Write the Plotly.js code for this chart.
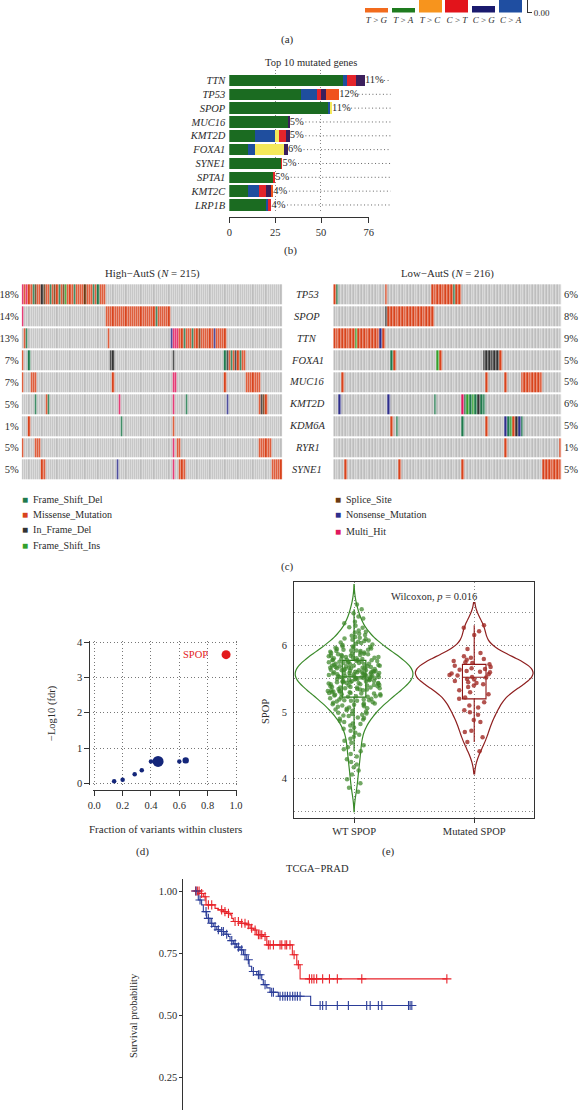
<!DOCTYPE html>
<html><head><meta charset="utf-8">
<script src="https://cdn.plot.ly/plotly-3.0.1.min.js"></script>
<style>html,body{margin:0;padding:0;background:#fff;}#chart{width:580px;height:1110px;}</style>
</head><body><div id="chart"></div>
<script>
// ---------- Panel (a): substitution classes (bottom of boxplots) ----------
const sbsCats = ['T>G','T>A','T>C','C>T','C>G','C>A'];
const sbsTickText = ['<i>T</i> > <i>G</i>','<i>T</i> > <i>A</i>','<i>T</i> > <i>C</i>','<i>C</i> > <i>T</i>','<i>C</i> > <i>G</i>','<i>C</i> > <i>A</i>'];
const sbsVisible = [0.012, 0.012, 0.05, 0.05, 0.016, 0.05];
const sbsColors = ['#f26b1d','#1e7b1e','#f7941d','#e2141b','#1a1a6e','#1f4ea1'];

// ---------- Panel (b): top 10 mutated genes ----------
const genesB = ['TTN','TP53','SPOP','MUC16','KMT2D','FOXA1','SYNE1','SPTA1','KMT2C','LRP1B'];
const bMissense   = [62,39,54,32,14,10,28,24,10,20];
const bFrameDel   = [2,9,1,0,11,4,0,0,6,1];
const bInFrameDel = [0,0,1,0,2,16,0,0,0,0];
const bNonsense   = [5,2,0,0,4,0,1,1,4,2];
const bMultiHit   = [5,3,0,1,2,2,0,0,3,0];
const bFrameIns   = [0,7,0,0,0,0,0,0,1,0];
const pctB = ['11%','12%','11%','5%','5%','6%','5%','5%','4%','4%'];
const bTicks = [0,25,50,76];

// ---------- Panel (c): oncoplots ----------
const genesC = ['TP53','SPOP','TTN','FOXA1','MUC16','KMT2D','KDM6A','RYR1','SYNE1'];
const pctHigh = ['18%','14%','13%','7%','7%','5%','1%','5%','5%'];
const pctLow  = ['6%','8%','9%','5%','5%','6%','5%','1%','5%'];
const variantClasses = ['None','Frame_Shift_Del','Missense_Mutation','In_Frame_Del','Frame_Shift_Ins','Splice_Site','Nonsense_Mutation','Multi_Hit'];
const nHigh = 121, nLow = 84;
// runs: [firstSample, lastSample, classIndex]
const runsHigh = [
  [[0,38,2],[0,0,7],[2,2,7],[5,5,1],[6,6,5],[9,9,3],[10,10,5],[13,13,1],[15,15,5],[17,17,1],[19,19,5],[20,20,4],[24,24,1],[29,29,5],[33,33,1],[35,35,1]],
  [[0,0,7],[39,68,2],[62,62,1]],
  [[1,1,2],[2,2,1],[40,40,2],[69,69,6],[70,72,7],[73,94,2],[75,75,1],[79,79,1],[82,82,5],[89,89,6]],
  [[0,0,2],[3,3,1],[41,42,3],[70,70,3],[94,103,2],[94,94,1],[95,95,3],[97,97,1],[99,99,3],[101,101,1]],
  [[0,0,2],[4,6,2],[42,42,2],[70,71,7],[94,94,2],[104,110,2]],
  [[6,6,1],[11,11,2],[12,12,1],[45,45,7],[70,70,7],[76,76,1],[95,95,6],[110,110,2],[111,111,3],[112,112,5],[113,113,2]],
  [[3,3,2],[46,46,1],[70,70,2]],
  [[0,0,2],[6,8,2],[70,70,7],[72,73,2],[110,115,2]],
  [[9,10,2],[44,44,6],[70,70,7],[73,75,2],[116,120,2]]
];
const runsLow = [
  [[0,0,2],[1,1,1],[19,19,2],[36,43,2],[44,44,1],[45,46,2]],
  [[19,19,3],[20,36,2]],
  [[0,7,2],[8,8,4],[9,16,2],[17,17,6],[18,18,2]],
  [[21,21,1],[22,22,2],[38,38,4],[39,39,2],[55,60,3],[61,61,2]],
  [[3,3,2],[56,56,2],[63,63,2],[69,76,2]],
  [[2,2,6],[20,20,6],[37,37,1],[47,47,7],[48,55,1],[49,49,4],[51,51,4],[53,53,3]],
  [[21,21,2],[23,23,1],[47,47,1],[56,56,2],[63,63,6],[64,69,1],[65,65,4],[66,66,2],[67,67,3],[68,68,6]],
  [[63,63,2],[83,83,2]],
  [[4,4,2],[24,24,2],[47,47,2],[77,83,2]]
];
const cellColors = ['#bdbdbd','#1f7a4d','#d8431c','#333333','#34a02c','#6b3a12','#2e2e8c','#e0195e'];

// ---------- Panel (d): clusters ----------
const clusterFrac  = [0.14,0.20,0.285,0.335,0.40,0.45,0.60,0.645,0.93];
const clusterFdr   = [0.06,0.10,0.26,0.37,0.62,0.62,0.62,0.65,3.65];
const clusterCount = [1,1,1,1,1,6,1,2,4];
const clusterGene  = ['','','','','','','','','SPOP'];

// ---------- Panel (e): SPOP expression ----------
const wtSpop = [
6.62,6.55,6.49,6.44,6.41,6.36,6.34,6.30,6.28,6.27,6.23,6.21,6.20,6.18,6.16,6.15,6.13,6.12,6.10,6.09,
6.08,6.06,6.05,6.03,6.02,6.01,5.99,5.98,5.98,5.96,5.95,5.94,5.93,5.93,5.92,5.90,5.90,5.89,5.88,5.87,
5.87,5.86,5.85,5.84,5.83,5.83,5.82,5.81,5.80,5.80,5.79,5.78,5.78,5.77,5.76,5.76,5.75,5.74,5.74,5.73,
5.72,5.72,5.71,5.70,5.70,5.69,5.69,5.68,5.67,5.67,5.66,5.66,5.65,5.64,5.64,5.63,5.63,5.62,5.62,5.61,
5.61,5.60,5.60,5.59,5.59,5.58,5.58,5.57,5.57,5.56,5.56,5.55,5.55,5.54,5.54,5.53,5.53,5.52,5.52,5.51,
5.51,5.50,5.50,5.49,5.48,5.48,5.47,5.47,5.46,5.45,5.45,5.44,5.43,5.43,5.42,5.41,5.40,5.40,5.39,5.38,
5.37,5.37,5.36,5.35,5.34,5.33,5.33,5.32,5.31,5.30,5.29,5.28,5.27,5.26,5.25,5.24,5.23,5.22,5.20,5.19,
5.18,5.17,5.15,5.14,5.13,5.11,5.10,5.09,5.07,5.06,5.04,5.03,5.01,4.99,4.97,4.95,4.94,4.92,4.89,4.87,
4.85,4.82,4.80,4.77,4.75,4.72,4.69,4.66,4.63,4.60,4.57,4.54,4.50,4.47,4.44,4.41,4.37,4.33,4.29,4.25,
4.21,4.17,4.12,4.06,3.99,3.93,3.86,3.80,
5.91,5.86,5.81,5.79,5.77,5.73,5.71,5.68,5.65,5.63,5.61,5.58,5.57,5.54,5.52,5.49,5.46,5.44,5.41,5.38,
5.35,5.32,5.29,5.27,5.24,5.21,5.18,5.16,5.12,5.08,5.84,5.76,5.69,5.62,5.56,5.51,5.47,5.42,5.36,5.31,
6.04,5.97,5.92,5.85,5.78,5.70,5.66,5.59,5.53,5.45,5.39,5.34,5.28,5.23,5.17,5.11,5.02,4.96,4.90,4.83,
6.11,6.07,5.99,5.94,5.88,5.82,5.75,5.67,5.60,5.55,5.50,5.44,5.37,5.30,5.25,5.19,5.13,5.05,4.98,4.91];
const mutSpop = [6.31,6.27,6.22,6.16,5.95,5.89,5.84,5.82,5.80,5.79,5.77,5.75,5.74,5.72,5.70,5.68,5.66,5.65,5.64,5.62,
5.61,5.60,5.58,5.57,5.56,5.55,5.53,5.52,5.50,5.49,5.47,5.45,5.44,5.42,5.40,5.38,5.33,5.30,5.27,5.22,
5.20,5.15,5.10,5.07,5.03,5.00,4.96,4.88,4.85,4.72,4.70,4.62,4.55,4.41];
const groupsE = ['WT SPOP','Mutated SPOP'];

// ---------- Panel (f): Kaplan-Meier TCGA-PRAD (months) ----------
const kmTimeRed = [0,3.6,5.7,7.4,13.1,15.2,18.4,20.5,22.6,23.7,24.7,28.9,33.2,35.3,37.4,39.5,43.7,45.9,62.1,64.9,67.0,160];
const kmSurvRed = [1,0.99,0.977,0.944,0.93,0.924,0.917,0.91,0.904,0.89,0.877,0.87,0.864,0.85,0.843,0.824,0.817,0.783,0.743,0.703,0.646,0.646];
const kmCensorRed = [0.8,1.9,3.0,4.6,6.8,8.9,11.0,17.3,19.4,21.6,25.8,27.9,30.0,32.1,34.2,36.3,38.5,40.6,41.6,42.7,44.8,46.9,48.0,50.1,54.3,55.4,57.5,58.5,60.6,63.2,65.9,72.9,74.4,75.8,77.5,81.3,85.6,90.6,106.1,160];
const kmTimeBlue = [0,2.5,4.6,5.7,7.8,9.9,12.0,14.2,16.3,19.4,21.6,22.6,24.7,26.8,28.9,31.1,33.2,34.7,36.3,39.5,42.7,43.7,45.9,48.0,53.2,73.7,137.8];
const kmSurvBlue = [1,0.964,0.944,0.917,0.89,0.87,0.857,0.844,0.837,0.826,0.817,0.80,0.787,0.774,0.763,0.743,0.723,0.697,0.676,0.663,0.643,0.623,0.61,0.592,0.576,0.539,0.539];
const kmCensorBlue = [1.1,3.6,7.4,8.9,11.0,13.1,15.2,17.3,18.4,20.5,23.7,25.8,27.9,30.0,32.1,34.2,37.4,40.6,41.6,44.8,49.0,50.1,54.3,56.0,57.5,59.0,60.6,62.3,63.8,65.3,67.0,79.7,81.3,83.5,90.6,97.6,109.2,111.4,116.6,118.8,135.7,136.7,137.8];

// ================= helpers =================
const W = 580, H = 1110;
const dx = (a,b) => [a/W, b/W];
const dy = (t,b) => [1-b/H, 1-t/H];
const px = x => x/W;
const py = y => 1-y/H;
const FONT = 'Liberation Serif, DejaVu Serif, serif';
const TXT = '#2b2b2b';
const RED = '#e8232a', BLUE = '#2b3d98';
const DOTS = '1px,2.5px';

function buildZ(runs, n){
  return runs.map(r => { const row = new Array(n).fill(0); r.forEach(([a,b,c]) => { for(let i=a;i<=b;i++) row[i]=c; }); return row; });
}
function discreteScale(colors){
  const n = colors.length, cs = [];
  colors.forEach((c,i) => { cs.push([i/n,c]); cs.push([(i+1)/n,c]); });
  return cs;
}
function stepAt(times, surv, t){
  let s = surv[0];
  for(let i=0;i<times.length;i++){ if(times[i] <= t) s = surv[i]; }
  return s;
}
const seq = n => Array.from({length:n}, (_,i)=>i);

const traces = [];
// ---- (a)
traces.push({type:'bar', x:sbsCats, y:sbsVisible, marker:{color:sbsColors}, width:0.86, xaxis:'x', yaxis:'y', hoverinfo:'skip'});

// ---- (b)
const bSeries = [
  [bMissense,'#1b6b21'],[bFrameDel,'#1f4e9e'],[bInFrameDel,'#f4e85a'],
  [bNonsense,'#e3242b'],[bMultiHit,'#3b1f5c'],[bFrameIns,'#f0521e']
];
bSeries.forEach(([vals,col]) => traces.push({type:'bar', orientation:'h', x:vals, y:genesB, marker:{color:col, line:{width:0}}, width:0.84, xaxis:'x2', yaxis:'y2', hoverinfo:'skip'}));
const totalsB = genesB.map((g,i) => bSeries.reduce((s,[v]) => s+v[i], 0));
const dotX = [], dotY = [];
totalsB.forEach((t,i) => { dotX.push(t+8.5, 88, null); dotY.push(genesB[i], genesB[i], null); });
traces.push({type:'scatter', mode:'lines', x:dotX, y:dotY, line:{color:'#666', dash:DOTS, width:1}, xaxis:'x2', yaxis:'y2', hoverinfo:'skip'});
traces.push({type:'scatter', mode:'text', x:totalsB, y:genesB, text:pctB, textposition:'middle right', textfont:{size:10.5, color:TXT, family:FONT}, xaxis:'x2', yaxis:'y2', hoverinfo:'skip', cliponaxis:false});
traces.push({type:'scatter', mode:'markers', x:[0], y:[genesB[0]], marker:{opacity:0}, xaxis:'x3', yaxis:'y2', hoverinfo:'skip'});

// ---- (c)
const cs = discreteScale(cellColors);
traces.push({type:'heatmap', z:buildZ(runsHigh,nHigh), x:seq(nHigh), y:genesC, colorscale:cs, zmin:-0.5, zmax:cellColors.length-0.5, showscale:false, xgap:0.6, ygap:2, xaxis:'x4', yaxis:'y4', hoverinfo:'skip'});
traces.push({type:'heatmap', z:buildZ(runsLow,nLow), x:seq(nLow), y:genesC, colorscale:cs, zmin:-0.5, zmax:cellColors.length-0.5, showscale:false, xgap:0.6, ygap:2, xaxis:'x5', yaxis:'y5', hoverinfo:'skip'});

// ---- (d)
traces.push({type:'scatter', mode:'markers', x:clusterFrac, y:clusterFdr,
  marker:{size:clusterCount, sizemode:'area', sizeref:0.0988, opacity:1, color:clusterGene.map(g => g ? '#e31a1c' : '#14267a'), line:{width:0}},
  xaxis:'x6', yaxis:'y6', cliponaxis:false, hoverinfo:'skip'});

// ---- (e)
const violinCommon = {type:'violin', points:'all', jitter:0.45, pointpos:0, width:0.98, spanmode:'soft',
  fillcolor:'rgba(0,0,0,0)', meanline:{visible:false}, xaxis:'x7', yaxis:'y7', hoverinfo:'skip'};
traces.push(Object.assign({}, violinCommon, {x:wtSpop.map(()=>groupsE[0]), y:wtSpop, bandwidth:0.15,
  line:{color:'#3a8a2a', width:1.2}, marker:{size:4.5, color:'rgba(60,135,40,0.72)'},
  box:{visible:true, width:0.2, fillcolor:'rgba(0,0,0,0)', line:{color:'#2a7a1c', width:1.2}}}));
traces.push(Object.assign({}, violinCommon, {x:mutSpop.map(()=>groupsE[1]), y:mutSpop, bandwidth:0.17,
  line:{color:'#8e1f1f', width:1.2}, marker:{size:4.5, color:'rgba(160,40,35,0.8)'},
  box:{visible:true, width:0.2, fillcolor:'rgba(0,0,0,0)', line:{color:'#8e1414', width:1.1}}}));

// ---- (f)
traces.push({type:'scatter', mode:'lines', x:kmTimeRed, y:kmSurvRed, line:{shape:'hv', color:RED, width:1.1}, xaxis:'x8', yaxis:'y8', hoverinfo:'skip'});
traces.push({type:'scatter', mode:'lines', x:kmTimeBlue, y:kmSurvBlue, line:{shape:'hv', color:BLUE, width:1.1}, xaxis:'x8', yaxis:'y8', hoverinfo:'skip'});
traces.push({type:'scatter', mode:'markers', x:kmCensorRed, y:kmCensorRed.map(t => stepAt(kmTimeRed,kmSurvRed,t)), marker:{symbol:'cross-thin-open', size:6.5, color:RED, line:{width:1.1, color:RED}}, xaxis:'x8', yaxis:'y8', cliponaxis:false, hoverinfo:'skip'});
traces.push({type:'scatter', mode:'markers', x:kmCensorBlue, y:kmCensorBlue.map(t => stepAt(kmTimeBlue,kmSurvBlue,t)), marker:{symbol:'cross-thin-open', size:6.5, color:BLUE, line:{width:1.1, color:BLUE}}, xaxis:'x8', yaxis:'y8', cliponaxis:false, hoverinfo:'skip'});

// ================= annotations =================
const ann = [];
function A(text,x,y,opts){ ann.push(Object.assign({text, x:px(x), y:py(y), xref:'paper', yref:'paper', showarrow:false, xanchor:'center', yanchor:'middle', font:{size:10, color:TXT, family:FONT}}, opts||{})); }
const F = s => ({size:s, color:TXT, family:FONT});
A('(a)',287,40,{font:F(11)});
A('(b)',290,250,{font:F(11)});
A('(c)',287,566,{font:F(11)});
A('(d)',142,851,{font:F(11)});
A('(e)',388,851,{font:F(11)});
A('Top 10 mutated genes',311,63,{font:F(10.5)});
A('High−AutS (<i>N</i> = 215)',152.5,273,{font:F(10.8)});
A('Low−AutS (<i>N</i> = 216)',447.5,273,{font:F(10.8)});
genesC.forEach((g,i) => {
  ann.push({text:'<i>'+g+'</i>', x:px(307), xref:'paper', y:g, yref:'y5', showarrow:false, xanchor:'center', font:F(10.5)});
  ann.push({text:pctLow[i], x:px(580), xref:'paper', y:g, yref:'y5', showarrow:false, xanchor:'right', font:F(10.5)});
});
clusterGene.forEach((g,i) => { if(g) ann.push({text:g, x:clusterFrac[i], y:clusterFdr[i], xref:'x6', yref:'y6', showarrow:false, xanchor:'right', xshift:-16, font:{size:10.5, color:'#e31a1c', family:FONT}}); });
const legLeft = [1,2,3,4], legRight = [5,6,7];
legLeft.forEach((c,i) => A('<span style="color:'+cellColors[c]+'">■</span>  '+variantClasses[c], 20, 499+i*15.4, {xanchor:'left', font:F(10)}));
legRight.forEach((c,i) => A('<span style="color:'+cellColors[c]+'">■</span>  '+variantClasses[c], 333, 499+i*16, {xanchor:'left', font:F(10)}));
A('−Log10 (fdr)',52,713,{textangle:-90, font:F(10.5)});
A('Fraction of variants within clusters',165,829,{font:F(11)});
A('SPOP',265,712,{textangle:-90, font:F(10.5)});
A('Wilcoxon, <i>p</i> = 0.016',433.5,597,{font:F(10.5)});
A('TCGA−PRAD',317,868,{font:F(10.5)});
A('Survival probability',133,1016,{textangle:-90, font:F(10.5)});

// ================= layout =================
const ax0 = {showgrid:false, zeroline:false, showline:false, ticks:'', tickfont:F(10)};
const layout = {
  width:W, height:H, margin:{l:0,r:0,t:0,b:0}, showlegend:false,
  paper_bgcolor:'#fff', plot_bgcolor:'rgba(0,0,0,0)', font:{family:FONT, color:TXT, size:10},
  barmode:'stack', violinmode:'overlay', annotations:ann,
  xaxis: Object.assign({}, ax0, {domain:dx(363,524), anchor:'y', type:'category', range:[-0.5,5.5], tickvals:sbsCats, ticktext:sbsTickText, tickfont:F(9)}),
  yaxis: Object.assign({}, ax0, {domain:dy(0,12.5), anchor:'free', position:px(527), side:'right', range:[0,0.03], showline:true, linecolor:'#333', ticks:'outside', ticklen:4, tickcolor:'#333', tickvals:[0], ticktext:['0.00'], tickfont:F(9)}),
  xaxis2: Object.assign({}, ax0, {domain:dx(229.3,398), anchor:'y2', range:[0,92], showticklabels:false, showgrid:true, tickvals:[25,50], gridcolor:'#888', griddash:DOTS, gridwidth:1}),
  yaxis2: Object.assign({}, ax0, {domain:dy(69.6,212.1), anchor:'x2', type:'category', autorange:'reversed', tickfont:{size:10.5,color:TXT,family:FONT,style:'italic'}, ticklabelstandoff:3}),
  xaxis3: Object.assign({}, ax0, {domain:dx(229.3,368.7), anchor:'free', position:py(217.3), range:[0,76], tickvals:bTicks, showline:true, linecolor:'#333', ticks:'outside', ticklen:5, tickcolor:'#333', tickfont:F(10.5)}),
  xaxis4: {domain:dx(21.7,282.3), anchor:'y4', visible:false, range:[-0.5,nHigh-0.5]},
  yaxis4: Object.assign({}, ax0, {domain:dy(283.3,480.7), anchor:'x4', type:'category', autorange:'reversed', tickvals:genesC, ticktext:pctHigh, ticklabelstandoff:2, tickfont:F(10.5)}),
  xaxis5: {domain:dx(333.3,561.7), anchor:'y5', visible:false, range:[-0.5,nLow-0.5]},
  yaxis5: Object.assign({}, ax0, {domain:dy(283.3,480.7), anchor:'x5', type:'category', autorange:'reversed', showticklabels:false}),
  xaxis6: Object.assign({}, ax0, {domain:dx(94.3-1.42,236+1.42), anchor:'free', position:py(790), range:[-0.01,1.01], tickvals:[0,0.2,0.4,0.6,0.8,1.0], ticktext:['0.0','0.2','0.4','0.6','0.8','1.0'], showline:true, linecolor:'#333', ticks:'outside', ticklen:5, tickcolor:'#333', showgrid:true, gridcolor:'#777', griddash:DOTS, tickfont:F(10.5)}),
  yaxis6: Object.assign({}, ax0, {domain:dy(642.3-1.41,783.3+1.41), anchor:'free', position:px(89.3), range:[-0.04,4.04], tickvals:[0,1,2,3,4], showline:true, linecolor:'#333', ticks:'outside', ticklen:5, tickcolor:'#333', showgrid:true, gridcolor:'#777', griddash:DOTS, tickfont:F(10.5)}),
  xaxis7: Object.assign({}, ax0, {domain:dx(294,534.3), anchor:'y7', type:'category', range:[-0.5,1.5], showline:true, mirror:true, linecolor:'#333', ticks:'outside', ticklen:4, tickcolor:'#333', showgrid:true, gridcolor:'#888', griddash:DOTS, tickfont:F(10.5)}),
  yaxis7: Object.assign({}, ax0, {domain:dy(582,817.7), anchor:'x7', range:[3.41,6.96], tickvals:[3.5,4,4.5,5,5.5,6,6.5], ticktext:['','4','','5','','6',''], showline:true, mirror:true, linecolor:'#333', showgrid:true, gridcolor:'#888', griddash:DOTS, ticklabelstandoff:4, tickfont:F(10.5)}),
  xaxis8: {domain:dx(183.3,480), anchor:'y8', visible:false, range:[-7,181]},
  yaxis8: Object.assign({}, ax0, {domain:dy(878.6,1110), anchor:'x8', range:[0.118,1.05], tickvals:[0.25,0.5,0.75,1], tickformat:'.2f', showline:true, linecolor:'#333', ticks:'outside', ticklen:3, tickcolor:'#333', tickfont:F(10.5)})
};
Plotly.newPlot('chart', traces, layout, {staticPlot:true, displayModeBar:false});
</script></body></html>
